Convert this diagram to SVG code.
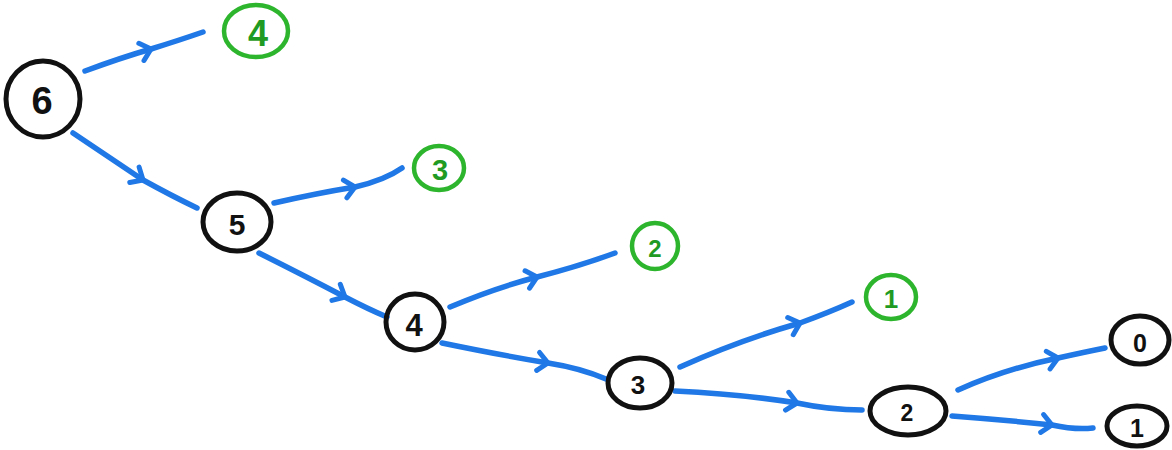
<svg xmlns="http://www.w3.org/2000/svg" width="1172" height="450" viewBox="0 0 1172 450">
<defs>
<marker id="chev" viewBox="-14 -14 28 28" markerWidth="28" markerHeight="28" markerUnits="userSpaceOnUse" orient="auto" refX="0" refY="0">
<path d="M-10,-9 L0,0 L-10,9" fill="none" stroke="#1f78e6" stroke-width="5" stroke-linecap="round" stroke-linejoin="round"/>
</marker>
</defs>
<style>
.edge{fill:none;stroke:#1f78e6;stroke-width:5.5;stroke-linecap:round;stroke-linejoin:round;marker-mid:url(#chev)}
.nb{fill:none;stroke:#111;stroke-width:5}
.ng{fill:none;stroke:#2db52d;stroke-width:4.5}
.tb{font-family:"Liberation Sans",Arial,sans-serif;font-weight:bold;fill:#111;text-anchor:middle;dominant-baseline:central}
.tg{font-family:"Liberation Sans",Arial,sans-serif;font-weight:bold;fill:#1f9a22;text-anchor:middle;dominant-baseline:central}
</style>
<g id="connectors">
<path class="edge" d="M85,71 Q120,58 151,49 Q180,40 203,32"/>
<path class="edge" d="M73,133 Q110,158 143,180 Q172,196 197,208"/>
<path class="edge" d="M274,203 Q318,193 355,187 Q385,180 402,168"/>
<path class="edge" d="M259,253 Q305,276 345,297 Q368,309 387,317"/>
<path class="edge" d="M450,307 Q495,288 537,277 Q580,266 615,253"/>
<path class="edge" d="M442,343 Q500,355 548,363 Q580,368 606,379"/>
<path class="edge" d="M680,367 Q740,340 800,323 Q830,312 852,302"/>
<path class="edge" d="M675,391 Q740,394 797,403 Q830,410 862,410"/>
<path class="edge" d="M958,390 Q1005,369 1058,358 Q1085,352 1105,348"/>
<path class="edge" d="M952,416 Q1005,420 1052,425 Q1075,430 1093,428"/>
</g>
<g id="n6"><ellipse class="nb" cx="43" cy="99" rx="37" ry="38"/><text class="tb" x="42" y="101" font-size="38">6</text></g>
<g id="n4g"><ellipse class="ng" cx="256" cy="31" rx="32" ry="26"/><text class="tg" x="258" y="33" font-size="36">4</text></g>
<g id="n5"><ellipse class="nb" cx="237" cy="222" rx="34" ry="29"/><text class="tb" x="237" y="224" font-size="30">5</text></g>
<g id="n3g"><ellipse class="ng" cx="439" cy="168" rx="25" ry="22"/><text class="tg" x="440" y="170" font-size="29">3</text></g>
<g id="n4"><ellipse class="nb" cx="415" cy="322" rx="29" ry="28"/><text class="tb" x="414" y="325" font-size="31">4</text></g>
<g id="n2g"><ellipse class="ng" cx="655" cy="246" rx="23" ry="23"/><text class="tg" x="655" y="248" font-size="24">2</text></g>
<g id="n3"><ellipse class="nb" cx="640" cy="383" rx="32" ry="25"/><text class="tb" x="638" y="385" font-size="26">3</text></g>
<g id="n1g"><ellipse class="ng" cx="891" cy="297" rx="25" ry="22"/><text class="tg" x="891" y="299" font-size="26">1</text></g>
<g id="n2"><ellipse class="nb" cx="908" cy="411" rx="38" ry="24"/><text class="tb" x="907" y="413" font-size="23">2</text></g>
<g id="n0"><ellipse class="nb" cx="1140" cy="340" rx="29" ry="24"/><text class="tb" x="1140" y="343" font-size="25">0</text></g>
<g id="n1"><ellipse class="nb" cx="1137" cy="426" rx="30" ry="20"/><text class="tb" x="1137" y="428" font-size="25">1</text></g>
</svg>
